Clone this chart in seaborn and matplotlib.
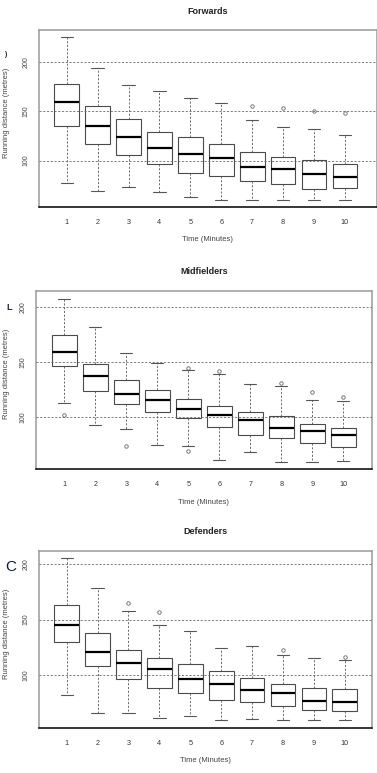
import matplotlib as mpl
mpl.use('Agg')
import matplotlib.pyplot as plt
import seaborn as sns
import pandas as pd

sns.set_style('white')
plt.rcParams['font.family'] = ['Liberation Sans', 'DejaVu Sans']

minutes = [1, 2, 3, 4, 5, 6, 7, 8, 9, 10]

# five-number summaries (metres)
fw_low = [77, 69.5, 73.2, 67.8, 63.4, 60.3, 60.3, 60.3, 60.3, 60.3]
fw_q1 = [134.6, 116.6, 106, 97, 87.5, 84, 79.7, 75.9, 71.2, 72.5]
fw_med = [159.3, 134.9, 124, 113.2, 106.8, 102.4, 93.9, 91.2, 86.8, 83.4]
fw_q3 = [177.3, 155.6, 141.7, 129.2, 124.4, 117.3, 108.5, 103.7, 100.3, 96.3]
fw_high = [225.8, 193.6, 176.3, 170.5, 163.7, 158.6, 141, 133.6, 131.9, 125.8]
fw_out = [[], [], [], [], [], [], [154.9], [153.6], [150.8], [148.5]]

mf_low = [112.7, 92.7, 89.1, 74.5, 73.6, 61.5, 68.2, 59.4, 59.4, 60.3]
mf_q1 = [147, 123.9, 112.4, 104.5, 99.1, 90.9, 83.6, 81.2, 76.4, 72.7]
mf_med = [159.1, 137.3, 121.5, 116.1, 107.6, 102.4, 97.9, 90.3, 87.9, 83.6]
mf_q3 = [175.2, 148.2, 134.2, 125.2, 117, 110.6, 104.5, 100.9, 93.9, 90.3]
mf_high = [207.9, 182.1, 158.8, 149.1, 143, 139.4, 130.6, 128.2, 116.1, 114.5]
mf_out = [[102.1], [], [73.9], [], [69.4, 145.2], [142.1], [], [131.5], [123], [118.8]]

df_low = [82.3, 66.2, 66.2, 61.4, 63.5, 59.3, 60.5, 59.3, 59.3, 59.3]
df_q1 = [129.6, 108.1, 96.7, 88.6, 84.1, 77.5, 75.7, 72.2, 68.9, 68]
df_med = [145.2, 120.7, 111.1, 105.4, 96.7, 92.2, 86.5, 83.8, 76.9, 75.4]
df_q3 = [162.9, 138.3, 122.8, 115.6, 109.9, 103.3, 97.3, 92.2, 88, 87.1]
df_high = [205.4, 178.7, 157.5, 145.2, 140.1, 124.3, 126, 118, 115.3, 113.2]
df_out = [[], [], [165], [157], [], [], [], [123], [], [116.5]]


def long_table(low, q1, med, q3, high, outs, k=10):
    # repeat the quartile values so the box statistics land on them exactly
    rows = []
    for i, m in enumerate(minutes):
        vals = [low[i], high[i]] + [q1[i]] * k + [med[i]] * k + [q3[i]] * k + outs[i]
        rows += [(m, v) for v in vals]
    return pd.DataFrame(rows, columns=['minute', 'distance'])


panels = [
    ('Forwards', long_table(fw_low, fw_q1, fw_med, fw_q3, fw_high, fw_out),
     [39, 30, 376.7, 207], (52.9, 232.5), (-0.896, 10.03)),
    ('Midfielders', long_table(mf_low, mf_q1, mf_med, mf_q3, mf_high, mf_out),
     [36, 291, 371.7, 469], (53, 214.8), (-0.913, 9.92)),
    ('Defenders', long_table(df_low, df_q1, df_med, df_q3, df_high, df_out),
     [39, 551, 372.3, 728], (52.4, 211.7), (-0.896, 9.89)),
]

W, H = 377, 773
fig = plt.figure(figsize=(W / 100, H / 100), dpi=100)
fig.patch.set_facecolor('white')

for title, data, (x0, y0, x1, y1), ylim, xlim in panels:
    ax = fig.add_axes([x0 / W, 1 - y1 / H, (x1 - x0) / W, (y1 - y0) / H])
    sns.boxplot(data=data, x='minute', y='distance', order=minutes, ax=ax,
                color='white', linecolor='#4a4a4a', linewidth=0.8, width=0.8,
                whiskerprops=dict(linestyle=(0, (2.5, 2)), linewidth=0.6, color='#555555'),
                capprops=dict(linewidth=0.8, color='#555555'),
                medianprops=dict(linewidth=1.6, color='black'),
                flierprops=dict(marker='o', markersize=2.5, markerfacecolor='none',
                                markeredgecolor='#666666', markeredgewidth=0.6))
    for yv in [100, 150, 200]:
        ax.axhline(yv, color='#666666', linestyle=(0, (2.5, 2)), linewidth=0.6, zorder=5)
    ax.set_ylim(*ylim)
    ax.set_xlim(*xlim)
    ax.set_yticks([100, 150, 200])
    ax.set_yticklabels(['100', '150', '200'], rotation=90, va='center')
    ax.tick_params(axis='y', length=0, pad=7, labelsize=5, labelcolor='#444444')
    ax.tick_params(axis='x', length=3.5, width=0.6, color='#333333', pad=5,
                   labelsize=5.2, labelcolor='#333333')
    ax.set_xlabel('')
    ax.set_ylabel('')
    for side in ['left', 'right', 'top']:
        ax.spines[side].set_color('#9a9a9a')
        ax.spines[side].set_linewidth(1.1)
    ax.spines['bottom'].set_color('black')
    ax.spines['bottom'].set_linewidth(1.1)

    xc = (x0 + x1) / 2 / W
    fig.text(xc, 1 - (y0 - 19) / H, title, ha='center', va='center',
             fontsize=6.5, fontweight='bold', color='#222222')
    fig.text(xc, 1 - (y1 + 33) / H, 'Time (Minutes)', ha='center', va='center',
             fontsize=5.5, color='#444444')
    fig.text(7 / W, 1 - ((y0 + y1) / 2 - 6) / H, 'Running distance (metres)',
             ha='center', va='center', rotation=90, fontsize=5.5, color='#444444')

# panel letters (partly cropped in the source image)
fig.text(5 / W, 1 - 55 / H, ')', ha='center', va='center', fontsize=5,
         fontweight='bold', color='#1a2a4a')
fig.text(9 / W, 1 - 308 / H, 'L', ha='center', va='center', fontsize=6.5,
         fontweight='bold', color='#1a2a4a')
fig.text(11 / W, 1 - 567 / H, 'C', ha='center', va='center', fontsize=11,
         color='#0d1b3e')

fig.savefig('out.png', dpi=100, facecolor='white')
